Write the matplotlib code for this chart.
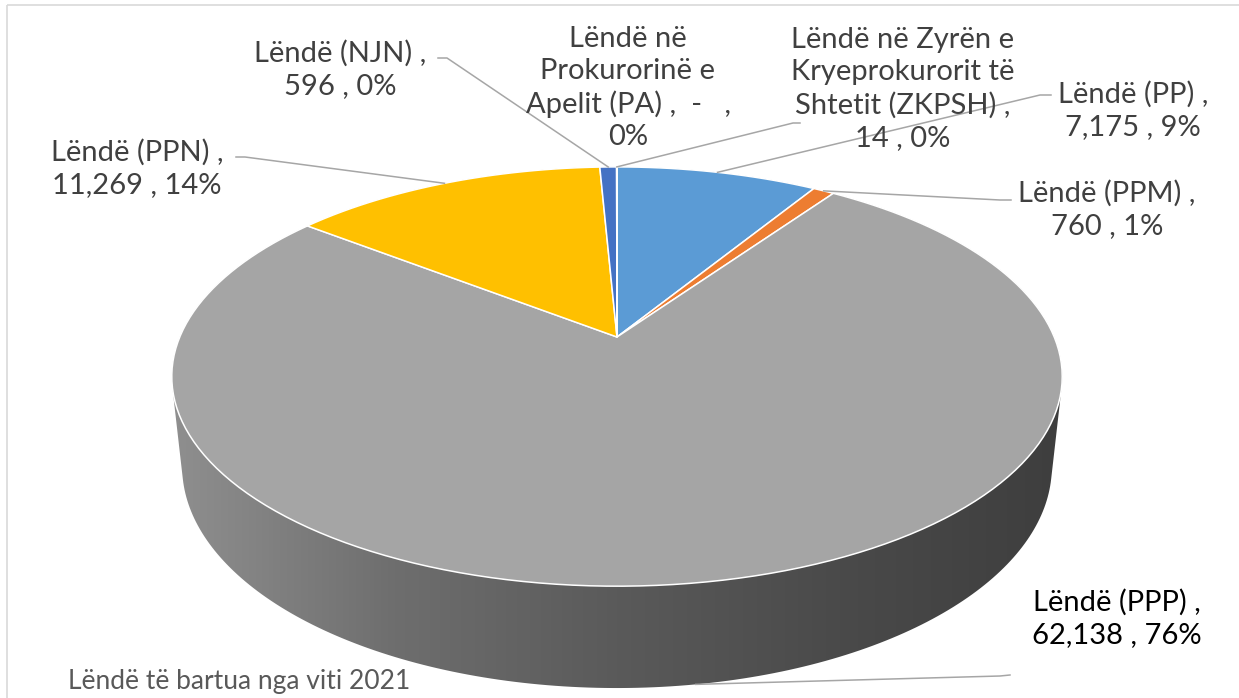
import numpy as np
import matplotlib
matplotlib.use("Agg")
import matplotlib.pyplot as plt
from matplotlib.patches import Polygon, Rectangle
from matplotlib.colors import LinearSegmentedColormap

# data
names = ["Lëndë (PP)", "Lëndë (PPM)", "Lëndë (PPP)", "Lëndë (PPN)", "Lëndë (NJN)",
         "Lëndë në Prokurorinë e Apelit (PA)",
         "Lëndë në Zyrën e Kryeprokurorit të Shtetit (ZKPSH)"]
values = [7175, 760, 62138, 11269, 596, 0, 14]
value_text = ["7,175", "760", "62,138", "11,269", "596", " -   ", "14"]
pct_text = ["9%", "1%", "76%", "14%", "0%", "0%", "0%"]
colors = ["#5B9BD5", "#ED7D31", "#A5A5A5", "#FFC000", "#4472C4", "#70AD47", "#264478"]
title = "Lëndë të bartua nga viti 2021"

# label text as wrapped in the chart
label_text = [
    "Lëndë (PP) ,\n7,175 , 9%",
    "Lëndë (PPM) ,\n760 , 1%",
    "Lëndë (PPP) ,\n62,138 , 76%",
    "Lëndë (PPN) ,\n11,269 , 14%",
    "Lëndë (NJN) ,\n596 , 0%",
    "Lëndë në\nProkurorinë e\nApelit (PA) ,  -   ,\n0%",
    "Lëndë në Zyrën e\nKryeprokurorit të\nShtetit (ZKPSH) ,\n14 , 0%",
]
label_pos = [(1133, 110), (1107, 209), (1117, 618), (137, 168), (340, 69), (628, 88), (903, 89)]
label_color = ["#404040", "#404040", "#000000", "#404040", "#404040", "#404040", "#404040"]
# leader elbow points near the labels (None = no leader)
leader_pts = [[(1040, 95), (1051, 95)], [(1000, 200), (1011, 200)], [(1000, 676), (1010, 675)],
              [(245, 157), (236, 157)], [(447, 58), (438, 58)], None, [(793, 123), (800, 123)]]

# simple perspective projection of the 3d pie (pixel space)
cx, cy = 617, 337
F, L = 2055.0, 4.70
phi = np.arcsin(0.4624)
thick = 0.234


def proj(a, z=0.0):
    x, y = np.sin(a), np.cos(a)
    depth = y * np.cos(phi) + L - z * np.sin(phi)
    up = y * np.sin(phi) + z * np.cos(phi)
    return cx + F * x / depth, cy - F * up / depth


def hull(pts):
    pts = sorted(map(tuple, pts))
    def cross(o, a, b):
        return (a[0] - o[0]) * (b[1] - o[1]) - (a[1] - o[1]) * (b[0] - o[0])
    lo, hi = [], []
    for p in pts:
        while len(lo) >= 2 and cross(lo[-2], lo[-1], p) <= 0:
            lo.pop()
        lo.append(p)
    for p in reversed(pts):
        while len(hi) >= 2 and cross(hi[-2], hi[-1], p) <= 0:
            hi.pop()
        hi.append(p)
    return np.array(lo[:-1] + hi[:-1])


fig = plt.figure(figsize=(12.39, 6.98), dpi=100)
ax = fig.add_axes([0, 0, 1, 1])

# side wall with shading
ang = np.linspace(0, 2 * np.pi, 400)
top_rim = np.array([proj(a, 0) for a in ang])
bot_rim = np.array([proj(a, -thick) for a in ang])
side = Polygon(hull(np.vstack([top_rim, bot_rim])), closed=True, facecolor="none", edgecolor="none")
ax.add_patch(side)
shade = LinearSegmentedColormap.from_list("shade", ["#8f8f8f", "#6e6e6e", "#5a5a5a", "#4a4a4a", "#3e3e3e"])
grad = np.linspace(0, 1, 256).reshape(1, -1)
im = ax.imshow(grad, cmap=shade, aspect="auto",
               extent=(top_rim[:, 0].min(), top_rim[:, 0].max(), 700, 150), zorder=1)
im.set_clip_path(side)

# top face slices
total = sum(values)
bounds = np.concatenate([[0], np.cumsum(values)]) / total * 2 * np.pi
for i, v in enumerate(values):
    if v == 0:
        continue
    a = np.linspace(bounds[i], bounds[i + 1], max(3, int(200 * v / total) + 3))
    pts = [(cx, cy)] + [proj(t, 0) for t in a]
    ax.add_patch(Polygon(pts, closed=True, facecolor=colors[i], edgecolor="white",
                         linewidth=1.1, zorder=2, joinstyle="round"))

# leader lines
for i, lp in enumerate(leader_pts):
    if lp is None:
        continue
    mid = (bounds[i] + bounds[i + 1]) / 2
    z = -thick if names[i] == "Lëndë (PPP)" else 0
    ax_, ay_ = proj(mid, z)
    xs = [ax_] + [p[0] for p in lp]
    ys = [ay_] + [p[1] for p in lp]
    ax.plot(xs, ys, color="#a6a6a6", linewidth=1.1, zorder=3)

# labels
for i, t in enumerate(label_text):
    ax.text(label_pos[i][0], label_pos[i][1], t, ha="center", va="center", fontsize=21,
            family="Lato", color=label_color[i], linespacing=1.3, zorder=4)

ax.text(68, 681, title, ha="left", va="center", fontsize=19, family="Lato", color="#595959")

# chart area border
ax.add_patch(Rectangle((7, 5), 1400, 900, facecolor="none", edgecolor="#d9d9d9", linewidth=1.2, zorder=0))

ax.set_xlim(0, 1239)
ax.set_ylim(698, 0)
ax.axis("off")
fig.savefig("out.png", dpi=100)
